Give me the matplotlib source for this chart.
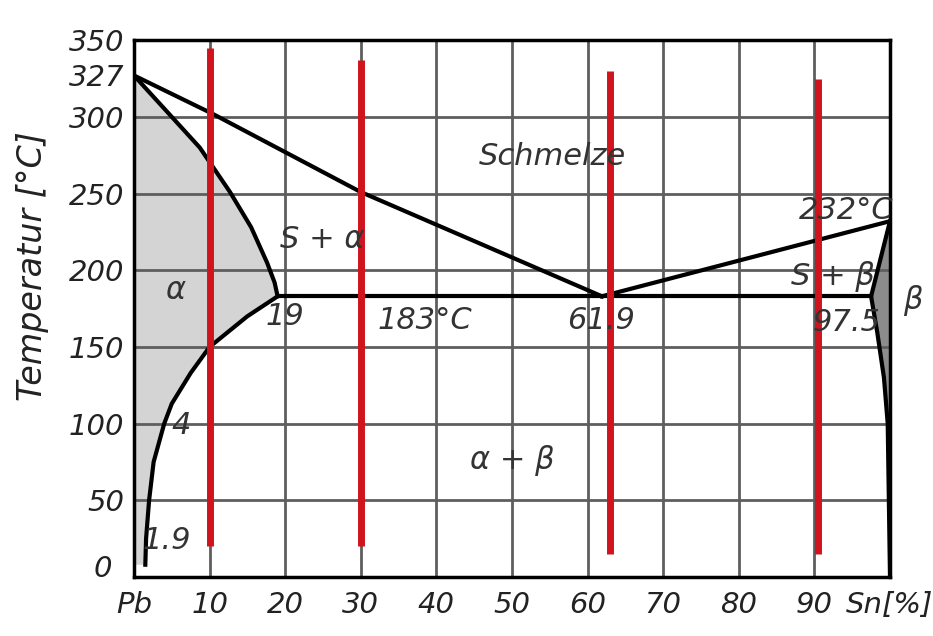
import matplotlib
matplotlib.use("Agg")
import matplotlib.pyplot as plt

plt.rcParams['font.family'] = ['DejaVu Sans']

# phase boundaries (Sn %, temperature C)
liq_left_x = [0, 10.4, 30, 61.9]
liq_left_y = [327, 302, 251, 183]
liq_right_x = [61.9, 100]
liq_right_y = [183, 232]
sol_left_x = [0, 5, 8.7, 12.7, 15.5, 17.6, 18.6, 19]
sol_left_y = [327, 300, 280, 251, 228, 205, 192, 183]
solv_left_x = [19, 15, 12.5, 10, 7.5, 5, 4, 2.6, 2.0, 1.6, 1.5]
solv_left_y = [183, 170, 160, 150, 133, 113, 100, 75, 50, 25, 8]
eut_x = [19, 97.5]
eut_y = [183, 183]
sol_right_x = [100, 97.5]
sol_right_y = [232, 183]
solv_right_x = [97.5, 98.3, 99.2, 99.7, 100]
solv_right_y = [183, 160, 130, 100, 0]

# red alloy lines
red_x = [10, 30, 63, 90.5]
red_top = [345, 337, 330, 325]
red_bottom = [20, 20, 15, 15]

xticks = [0, 10, 20, 30, 40, 50, 60, 70, 80, 90, 100]
xlabels = ['Pb', '10', '20', '30', '40', '50', '60', '70', '80', '90', 'Sn[%]']
yticks = [50, 100, 150, 200, 250, 300, 327, 350]
ylabels = ['50', '100', '150', '200', '250', '300', '327', '350']

fig = plt.figure(figsize=(9.33, 6.36), dpi=100)
ax = fig.add_axes([0.1436, 0.0928, 0.8103, 0.844])
ax.set_xlim(0, 100)
ax.set_ylim(0, 350)

# grid
for gx in range(10, 100, 10):
    ax.axvline(gx, color='#5e5e5e', lw=2, zorder=1)
for gy in range(50, 350, 50):
    ax.axhline(gy, color='#5e5e5e', lw=2, zorder=1)

# alpha region shading
ax_x = [0] + sol_left_x + solv_left_x[1:] + [0]
ax_y = [0] + sol_left_y + solv_left_y[1:] + [solv_left_y[-1]]
ax.fill(ax_x, ax_y, color='#d4d4d4', zorder=0.5, lw=0)
# beta region shading
bx = sol_right_x + solv_right_x[1:] + [100]
by = sol_right_y + solv_right_y[1:] + [232]
ax.fill(bx, by, color='#8c8c8c', zorder=0.5, lw=0)

lw = 3
ax.plot(liq_left_x, liq_left_y, color='black', lw=lw, zorder=3)
ax.plot(liq_right_x, liq_right_y, color='black', lw=lw, zorder=3)
ax.plot(sol_left_x, sol_left_y, color='black', lw=lw, zorder=3)
ax.plot(solv_left_x, solv_left_y, color='black', lw=lw, zorder=3)
ax.plot(eut_x, eut_y, color='black', lw=lw, zorder=3)
ax.plot(sol_right_x, sol_right_y, color='black', lw=lw, zorder=3)
ax.plot(solv_right_x, solv_right_y, color='black', lw=lw, zorder=3)

for x, t, b in zip(red_x, red_top, red_bottom):
    ax.plot([x, x], [b, t], color='#d0141e', lw=5, solid_capstyle='butt', zorder=4)

for s in ax.spines.values():
    s.set_linewidth(2.5)
    s.set_color('black')

ax.set_xticks(xticks)
ax.set_xticklabels(xlabels)
ax.set_yticks(yticks)
ax.set_yticklabels(ylabels)
ax.tick_params(length=0, labelsize=21)
ax.tick_params(axis='x', pad=10)
ax.tick_params(axis='y', pad=7)
for lab in ax.get_xticklabels() + ax.get_yticklabels():
    lab.set_style('italic')
    lab.set_color('#222222')
ax.text(-0.029, 0.015, '0', transform=ax.transAxes, ha='right', va='center',
        fontsize=21, style='italic', color='#222222')
ax.set_ylabel('Temperatur [°C]', fontsize=24, style='italic', color='#222222')
ax.yaxis.set_label_coords(-0.112, 0.58)

tkw = dict(fontsize=22, style='italic', color='#333333', ha='center', va='center', zorder=5)
ax.text(55.4, 274, 'Schmelze', **tkw)
ax.text(24.9, 220, 'S + α', **tkw)
ax.text(5.4, 187, 'α', **tkw)
ax.text(19.9, 170, '19', **tkw)
ax.text(38.5, 167, '183°C', **tkw)
ax.text(61.8, 167, '61.9', **tkw)
ax.text(50.1, 76, 'α + β', **tkw)
ax.text(94.2, 239, '232°C', **tkw)
ax.text(92.5, 196, 'S + β', **tkw)
ax.text(94.2, 166, '97.5', **tkw)
ax.text(103, 180, 'β', clip_on=False, **tkw)
ax.text(6.3, 99, '4', **tkw)
ax.text(4.3, 24, '1.9', **tkw)

fig.savefig('out.png', dpi=100, facecolor='white')
